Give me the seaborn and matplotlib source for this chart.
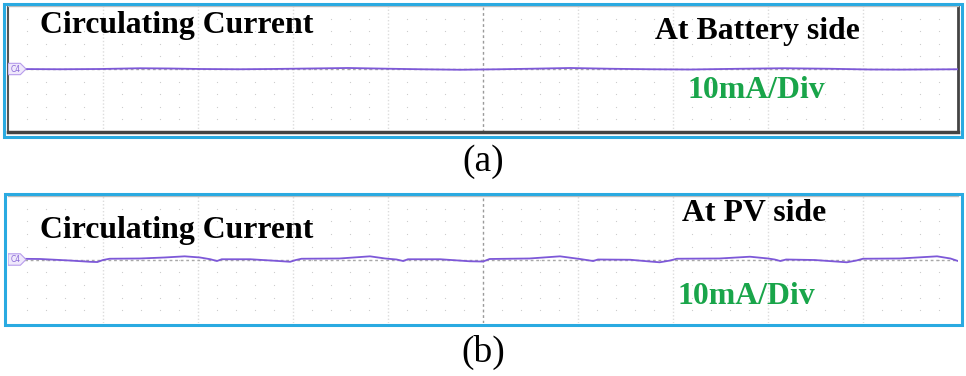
import numpy as np
import matplotlib
matplotlib.use('Agg')
import matplotlib.pyplot as plt
from matplotlib.patches import Rectangle, Polygon
import matplotlib.transforms as mtransforms
import seaborn as sns

# time axis in scope divisions (0..10), current in mA (10 mA / row)
trace_a_div = [0.0, 0.07, 0.55, 0.97, 1.39, 1.71, 2.02, 2.44, 2.76, 3.18, 3.58, 4.02, 4.34,
               4.76, 5.18, 5.49, 5.92, 6.34, 6.76, 7.18, 7.71, 8.16, 8.65, 9.07, 9.39, 10.0]
trace_a_ma = [0.0, 0.0, -0.2, 0.0, 0.6, 0.4, 0.0, -0.2, 0.0, 0.4, 0.8, 0.2, -0.2,
              -0.6, -0.2, 0.2, 0.8, 0.2, -0.2, -0.4, 0.2, 0.6, 0.2, -0.4, -0.5, -0.2]

trace_b_div = [0.0, 0.07, 0.34, 0.65, 0.86, 0.94, 1.0, 1.07, 1.39, 1.65, 1.86, 2.02, 2.13, 2.20,
               2.25, 2.55, 2.81, 2.97, 3.03, 3.09, 3.49, 3.81, 3.97, 4.09, 4.16, 4.21, 4.55,
               4.86, 5.0, 5.07, 5.49, 5.81, 6.02, 6.16, 6.21, 6.55, 6.76, 6.86, 6.97, 7.04,
               7.49, 7.81, 8.0, 8.07, 8.13, 8.19, 8.49, 8.83, 8.93, 9.0, 9.39, 9.78, 9.92, 10.0]
trace_b_ma = [0.6, 0.6, 0.4, -0.8, -1.8, -2.0, -0.4, 0.6, 0.8, 1.6, 2.5, 1.6, 0.2, -1.2,
              0.2, 0.2, -1.0, -1.8, -0.4, 0.6, 0.8, 2.5, 0.8, 0.0, -1.2, 0.2, 0.2,
              -1.4, -1.6, 0.4, 0.8, 2.5, 0.4, -1.2, 0.0, -0.2, -1.6, -2.2, -0.8, 0.6,
              0.8, 2.2, 0.8, 0.0, -1.2, 0.0, -0.4, -2.2, -0.8, 0.6, 0.8, 2.5, 0.8, -1.2]

panel_labels = ['(a)', '(b)']
side_labels = ['At Battery side', 'At PV side']
title_text = 'Circulating Current'
scale_text = '10mA/Div'

sns.set_style('white')
plt.rcParams['font.family'] = ['Liberation Serif', 'DejaVu Serif']

W, H = 966, 376
fig = plt.figure(figsize=(W / 100, H / 100), dpi=100)

trace_col = '#7D58D8'
cyan = '#2AAAE1'
green = '#19A54A'


def fx(px):
    return px / W


def fy(py):
    return 1 - py / H


def scope_axes(top, bottom):
    ax = fig.add_axes([fx(8), fy(bottom), fx(950), (bottom - top) / H])
    ax.set_xlim(0, 10)
    ax.set_ylim(-50, 50)
    ax.set_xticks([])
    ax.set_yticks([])
    # dotted graticule
    gx = [x for x in np.arange(0.2, 10, 0.2) if abs(x - round(x)) > 0.01]
    gy = np.arange(-40, 41, 10)
    xx, yy = np.meshgrid(gx, gy)
    ax.scatter(xx.ravel(), yy.ravel(), s=0.8, color='#cccccc', linewidths=0, zorder=1)
    for x in range(1, 10):
        if x == 5:
            ax.axvline(x, color='#9a9a9a', lw=1.0, ls=(0, (2, 2)), zorder=1)
        else:
            ax.axvline(x, color='#dcdcdc', lw=1.0, ls=(0, (1, 1.5)), zorder=1)
    ax.axhline(0, color='#a8a8a8', lw=1.0, ls=(0, (2, 2)), zorder=1)
    # channel tag
    tr = mtransforms.blended_transform_factory(ax.transAxes, ax.transData)
    tag = Polygon([(0.0, -4.5), (0.013, -4.5), (0.019, 0), (0.013, 4.5), (0.0, 4.5)],
                  closed=True, transform=tr, facecolor='#efe8fb', edgecolor='#b79cec',
                  lw=0.8, zorder=4)
    ax.add_patch(tag)
    ax.text(0.0085, 0, 'C4', transform=tr, fontsize=5.5, color='#8a6ad8', ha='center',
            va='center', family='DejaVu Sans', zorder=5)
    return ax


ax_a = scope_axes(6, 132)
sns.lineplot(x=trace_a_div, y=trace_a_ma, ax=ax_a, color=trace_col, lw=1.3, zorder=3)
for s in ax_a.spines.values():
    s.set_visible(True)
ax_a.spines['top'].set_color('#bdbdbd')
ax_a.spines['top'].set_linewidth(1.0)
ax_a.spines['left'].set_color('#555555')
ax_a.spines['left'].set_linewidth(1.5)
ax_a.spines['bottom'].set_color('#444444')
ax_a.spines['bottom'].set_linewidth(2.5)
ax_a.spines['right'].set_color('#444444')
ax_a.spines['right'].set_linewidth(2.0)

ax_b = scope_axes(196, 323)
sns.lineplot(x=trace_b_div, y=trace_b_ma, ax=ax_b, color=trace_col, lw=1.3, zorder=3)
ax_b.spines['top'].set_color('#bdbdbd')
ax_b.spines['top'].set_linewidth(1.0)
for k in ['left', 'bottom', 'right']:
    ax_b.spines[k].set_visible(False)

# cyan frames round each panel
for (x0, y0, x1, y1) in [(4, 4, 962, 137), (5, 194, 962, 325)]:
    fig.patches.append(Rectangle((fx(x0), fy(y1)), fx(x1 - x0), (y1 - y0) / H,
                                 transform=fig.transFigure, fill=False,
                                 edgecolor=cyan, lw=2.2, zorder=10))

bold = dict(fontweight='bold', va='baseline', ha='left', fontsize=22.9,
            family='Liberation Serif')
fig.text(fx(40), fy(33), title_text, color='black', **bold)
fig.text(fx(655), fy(39), side_labels[0], color='black', **bold)
fig.text(fx(687), fy(98), scale_text, color=green, **bold)

fig.text(fx(40), fy(238), title_text, color='black', **bold)
fig.text(fx(682), fy(221), side_labels[1], color='black', **bold)
fig.text(fx(677), fy(304), scale_text, color=green, **bold)

fig.text(fx(483), fy(162), panel_labels[0], fontsize=27, ha='center', va='center',
         color='black', family='Liberation Serif')
fig.text(fx(483), fy(352), panel_labels[1], fontsize=27, ha='center', va='center',
         color='black', family='Liberation Serif')

fig.savefig('out.png', dpi=100)
